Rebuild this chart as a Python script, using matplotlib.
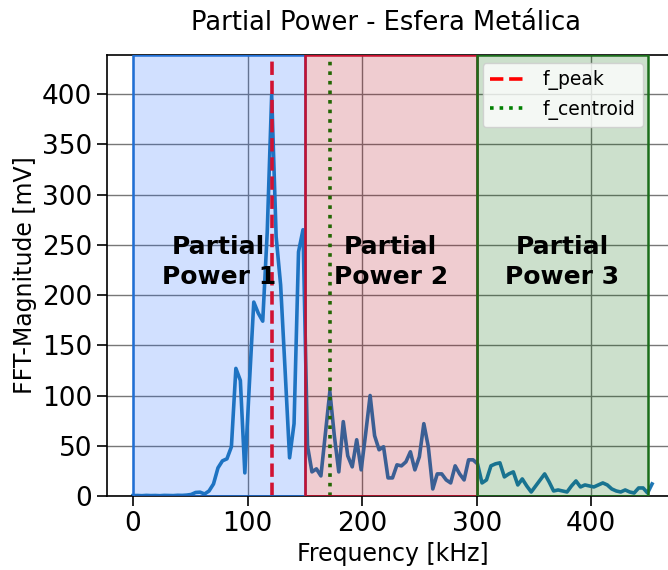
import numpy as np
import matplotlib
matplotlib.use("Agg")
import matplotlib.pyplot as plt

# FFT bin spacing [kHz] and magnitude per bin [mV]
freq_step_khz = 3.90625
magnitude_mv = [
    0.4, 0.5, 0.3, 0.6, 0.4, 0.5, 0.3, 0.6, 0.5, 0.4, 0.7, 0.6, 0.9,
    1.5, 3.5, 3.8, 2.0, 5, 12, 28, 35, 37, 49, 127, 115, 23, 110,
    193, 182, 174, 262, 399, 258, 210, 125, 38, 72, 243, 265, 50,
    24, 27, 20, 62, 104, 60, 24, 74, 40, 29, 56, 26, 62, 100, 60,
    46, 49, 18, 18, 31, 30, 34, 44, 26, 39, 72, 49, 7, 22, 22, 16,
    13, 30, 22, 16, 36, 36, 32, 13, 16, 30, 32, 33, 19, 22, 24, 11,
    17, 10, 4, 10, 16, 22, 14, 5, 6, 5, 4, 10, 15, 9, 11, 10, 9, 11,
    13, 11, 7, 5, 4, 6, 4, 3, 8, 8, 3, 12,
]
f_centroid_khz = 172.0

# Partial-power bands
band_edges = [(0, 150), (150, 300), (300, 450)]
band_labels = ["Partial\nPower 1", "Partial\nPower 2", "Partial\nPower 3"]
band_face = ["#1a64ff", "#af0014", "#006400"]
band_edge = ["#1f6fd6", "#c8102e", "#1b6e1b"]

freq = np.arange(len(magnitude_mv)) * freq_step_khz
mag = np.array(magnitude_mv, dtype=float)
f_peak = freq[np.argmax(mag)]

W, H = 668, 570
fig = plt.figure(figsize=(W / 100, H / 100), dpi=100)
# the plot area runs slightly past the right edge of the canvas
left_px, right_px, top_px, bottom_px = 107, 678, 55, 496
ax = fig.add_axes([left_px / W, 1 - bottom_px / H,
                   (right_px - left_px) / W, (bottom_px - top_px) / H])

ax.plot(freq, mag, color="#1f77b4", lw=2.6, zorder=2)
ax.axvline(f_peak, color="red", ls="--", lw=2.6, label="f_peak", zorder=2)
ax.axvline(f_centroid_khz, color="green", ls=":", lw=2.6,
           label="f_centroid", zorder=2)

ymax = mag.max() * 1.1
for (lo, hi), lab, fc, ec in zip(band_edges, band_labels, band_face, band_edge):
    ax.axvspan(lo, hi, facecolor=matplotlib.colors.to_rgba(fc, 0.2),
               edgecolor=ec, lw=1.8, zorder=3)
    ax.text((lo + hi) / 2, 233, lab, ha="center", va="center",
            fontsize=18, fontweight="bold", zorder=4, linespacing=1.3)

ax.set_ylim(0, ymax)
ax.set_xticks([0, 100, 200, 300, 400])
ax.set_yticks(range(0, 401, 50))
ax.grid(True, color="#777777", lw=1.0, zorder=1.5)
ax.tick_params(labelsize=19, length=7, width=1.2)
for s in ax.spines.values():
    s.set_linewidth(1.2)

ax.set_xlabel("Frequency [kHz]", fontsize=17)
ax.set_ylabel("FFT-Magnitude [mV]", fontsize=17)
ax.set_title("Partial Power - Esfera Metálica", fontsize=18.5, pad=18, x=0.489)
ax.legend(loc="upper right", fontsize=13.5, borderaxespad=0,
          bbox_to_anchor=((643 - left_px) / (right_px - left_px),
                          (bottom_px - 63) / (bottom_px - top_px)))

fig.savefig("out.png", dpi=100)
